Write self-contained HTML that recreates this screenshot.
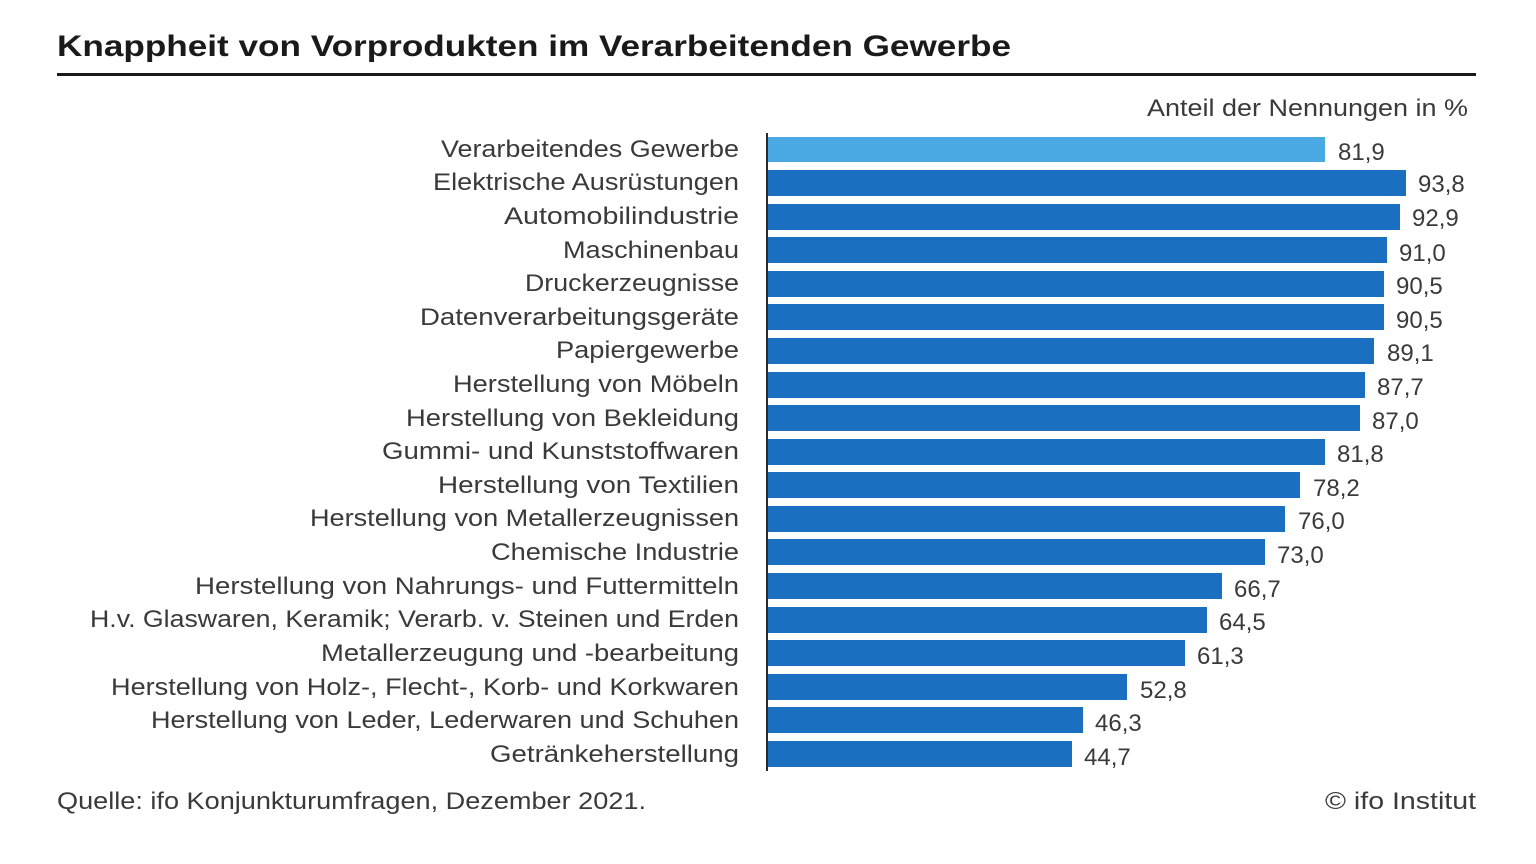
<!DOCTYPE html>
<html><head><meta charset="utf-8"><style>
html,body{margin:0;padding:0;background:#fff;}
svg{display:block;}
text{font-family:"Liberation Sans Narrow","Liberation Sans",sans-serif;fill:#3a3a3a;}
</style></head><body>
<svg width="1536" height="864" viewBox="0 0 1536 864" xmlns="http://www.w3.org/2000/svg">
<rect width="1536" height="864" fill="#fff"/>
<text x="57" y="56" font-size="30" font-weight="bold" textLength="954" lengthAdjust="spacingAndGlyphs" style="font-family:'Liberation Sans',sans-serif;fill:#1a1a1a">Knappheit von Vorprodukten im Verarbeitenden Gewerbe</text>
<rect x="57" y="73" width="1419" height="3" fill="#1a1a1a"/>
<text x="1468" y="116" font-size="24" text-anchor="end" textLength="321" lengthAdjust="spacingAndGlyphs">Anteil der Nennungen in %</text>
<rect x="766" y="133" width="2" height="638" fill="#2a2a2a"/>
<g font-size="24">
<!-- rows -->
<rect x="768" y="137" width="557" height="25" fill="#4aa8e2"/>
<text x="739" y="157" text-anchor="end" textLength="298" lengthAdjust="spacingAndGlyphs">Verarbeitendes Gewerbe</text>
<text x="1338" y="160">81,9</text>

<rect x="768" y="170" width="638" height="26" fill="#1a6fc1"/>
<text x="739" y="190" text-anchor="end" textLength="306" lengthAdjust="spacingAndGlyphs">Elektrische Ausrüstungen</text>
<text x="1418" y="192">93,8</text>

<rect x="768" y="204" width="632" height="26" fill="#1a6fc1"/>
<text x="739" y="224" text-anchor="end" textLength="235" lengthAdjust="spacingAndGlyphs">Automobilindustrie</text>
<text x="1412" y="226">92,9</text>

<rect x="768" y="237" width="619" height="26" fill="#1a6fc1"/>
<text x="739" y="258" text-anchor="end" textLength="176" lengthAdjust="spacingAndGlyphs">Maschinenbau</text>
<text x="1399" y="261">91,0</text>

<rect x="768" y="271" width="616" height="26" fill="#1a6fc1"/>
<text x="739" y="291" text-anchor="end" textLength="214" lengthAdjust="spacingAndGlyphs">Druckerzeugnisse</text>
<text x="1396" y="294">90,5</text>

<rect x="768" y="304" width="616" height="26" fill="#1a6fc1"/>
<text x="739" y="325" text-anchor="end" textLength="319" lengthAdjust="spacingAndGlyphs">Datenverarbeitungsgeräte</text>
<text x="1396" y="328">90,5</text>

<rect x="768" y="338" width="606" height="26" fill="#1a6fc1"/>
<text x="739" y="358" text-anchor="end" textLength="183" lengthAdjust="spacingAndGlyphs">Papiergewerbe</text>
<text x="1387" y="361">89,1</text>

<rect x="768" y="372" width="597" height="26" fill="#1a6fc1"/>
<text x="739" y="392" text-anchor="end" textLength="286" lengthAdjust="spacingAndGlyphs">Herstellung von Möbeln</text>
<text x="1377" y="395">87,7</text>

<rect x="768" y="405" width="592" height="26" fill="#1a6fc1"/>
<text x="739" y="426" text-anchor="end" textLength="333" lengthAdjust="spacingAndGlyphs">Herstellung von Bekleidung</text>
<text x="1372" y="429">87,0</text>

<rect x="768" y="439" width="557" height="26" fill="#1a6fc1"/>
<text x="739" y="459" text-anchor="end" textLength="357" lengthAdjust="spacingAndGlyphs">Gummi- und Kunststoffwaren</text>
<text x="1337" y="462">81,8</text>

<rect x="768" y="472" width="532" height="26" fill="#1a6fc1"/>
<text x="739" y="493" text-anchor="end" textLength="301" lengthAdjust="spacingAndGlyphs">Herstellung von Textilien</text>
<text x="1313" y="496">78,2</text>

<rect x="768" y="506" width="517" height="26" fill="#1a6fc1"/>
<text x="739" y="526" text-anchor="end" textLength="429" lengthAdjust="spacingAndGlyphs">Herstellung von Metallerzeugnissen</text>
<text x="1298" y="529">76,0</text>

<rect x="768" y="539" width="497" height="26" fill="#1a6fc1"/>
<text x="739" y="560" text-anchor="end" textLength="248" lengthAdjust="spacingAndGlyphs">Chemische Industrie</text>
<text x="1277" y="563">73,0</text>

<rect x="768" y="573" width="454" height="26" fill="#1a6fc1"/>
<text x="739" y="594" text-anchor="end" textLength="544" lengthAdjust="spacingAndGlyphs">Herstellung von Nahrungs- und Futtermitteln</text>
<text x="1234" y="597">66,7</text>

<rect x="768" y="607" width="439" height="26" fill="#1a6fc1"/>
<text x="739" y="627" text-anchor="end" textLength="649" lengthAdjust="spacingAndGlyphs">H.v. Glaswaren, Keramik; Verarb. v. Steinen und Erden</text>
<text x="1219" y="630">64,5</text>

<rect x="768" y="640" width="417" height="26" fill="#1a6fc1"/>
<text x="739" y="661" text-anchor="end" textLength="418" lengthAdjust="spacingAndGlyphs">Metallerzeugung und -bearbeitung</text>
<text x="1197" y="664">61,3</text>

<rect x="768" y="674" width="359" height="26" fill="#1a6fc1"/>
<text x="739" y="695" text-anchor="end" textLength="628" lengthAdjust="spacingAndGlyphs">Herstellung von Holz-, Flecht-, Korb- und Korkwaren</text>
<text x="1140" y="698">52,8</text>

<rect x="768" y="707" width="315" height="26" fill="#1a6fc1"/>
<text x="739" y="728" text-anchor="end" textLength="588" lengthAdjust="spacingAndGlyphs">Herstellung von Leder, Lederwaren und Schuhen</text>
<text x="1095" y="731">46,3</text>

<rect x="768" y="741" width="304" height="26" fill="#1a6fc1"/>
<text x="739" y="762" text-anchor="end" textLength="249" lengthAdjust="spacingAndGlyphs">Getränkeherstellung</text>
<text x="1084" y="765">44,7</text>
</g>
<text x="57" y="809" font-size="24" textLength="589" lengthAdjust="spacingAndGlyphs">Quelle: ifo Konjunkturumfragen, Dezember 2021.</text>
<text x="1476" y="809" font-size="24" text-anchor="end" textLength="151" lengthAdjust="spacingAndGlyphs">© ifo Institut</text>
</svg>
</body></html>
